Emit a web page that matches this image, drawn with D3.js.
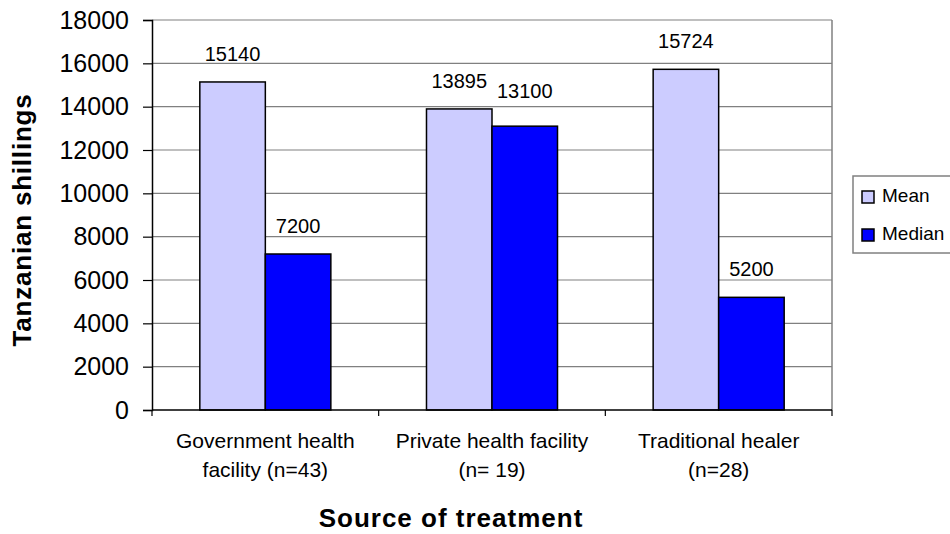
<!DOCTYPE html>
<html>
<head>
<meta charset="utf-8">
<script src="https://cdn.jsdelivr.net/npm/d3@7"></script>
<style>
  body { margin: 0; background: #fff; }
  svg { display: block; font-family: Arial, "Liberation Sans", sans-serif; }
</style>
</head>
<body>
<svg id="chart" width="950" height="534"></svg>
<script>
// data
var categories = [
  ["Government health", "facility (n=43)"],
  ["Private health facility", "(n= 19)"],
  ["Traditional healer", "(n=28)"]
];
var series = ["Mean", "Median"];
var meanValues = [15140, 13895, 15724];
var medianValues = [7200, 13100, 5200];
var yTicks = [0, 2000, 4000, 6000, 8000, 10000, 12000, 14000, 16000, 18000];

var colors = { Mean: "#ccccff", Median: "#0000ff" };

// plot box (not "top": that name is taken by window.top)
var plotLeft = 152, plotRight = 832, plotTop = 20, plotBottom = 410;

var svg = d3.select("#chart");

var x0 = d3.scaleBand()
  .domain(d3.range(categories.length))
  .range([plotLeft, plotRight])
  .paddingInner(0).paddingOuter(0);

var x1 = d3.scaleBand()
  .domain(series)
  .range([0, x0.bandwidth()])
  .paddingInner(0).paddingOuter(0.73);

var y = d3.scaleLinear().domain([0, 18000]).range([plotBottom, plotTop]);

// gridlines
svg.append("g").selectAll("line")
  .data(yTicks.filter(function(d){ return d > 0; }))
  .enter().append("line")
  .attr("x1", plotLeft).attr("x2", plotRight)
  .attr("y1", function(d){ return y(d); })
  .attr("y2", function(d){ return y(d); })
  .attr("stroke", "#808080").attr("stroke-width", 1.2);

// right border of plot area
svg.append("line")
  .attr("x1", plotRight).attr("x2", plotRight).attr("y1", plotTop).attr("y2", plotBottom)
  .attr("stroke", "#808080").attr("stroke-width", 1.5);

// bars
var rows = categories.map(function(c, i){
  return { i: i, values: [
    { key: "Mean", value: meanValues[i] },
    { key: "Median", value: medianValues[i] }
  ]};
});

var groups = svg.append("g").selectAll("g")
  .data(rows).enter().append("g")
  .attr("transform", function(d){ return "translate(" + x0(d.i) + ",0)"; });

groups.selectAll("rect")
  .data(function(d){ return d.values; })
  .enter().append("rect")
  .attr("x", function(d){ return x1(d.key); })
  .attr("width", x1.bandwidth())
  .attr("y", function(d){ return y(d.value); })
  .attr("height", function(d){ return y(0) - y(d.value); })
  .attr("fill", function(d){ return colors[d.key]; })
  .attr("stroke", "#000").attr("stroke-width", 1.5);

// value labels (the private median label sits a bit higher in the original)
groups.selectAll("text")
  .data(function(d){ return d.values.map(function(v){ return { key: v.key, value: v.value, i: d.i }; }); })
  .enter().append("text")
  .attr("x", function(d){ return x1(d.key) + x1.bandwidth() / 2; })
  .attr("y", function(d){
    var off = (d.i === 1 && d.key === "Median") ? 28 : 21;
    return y(d.value) - off;
  })
  .attr("text-anchor", "middle")
  .attr("font-size", 20)
  .attr("fill", "#000")
  .text(function(d){ return d.value; });

// y axis
var yAxis = svg.append("g")
  .attr("transform", "translate(" + plotLeft + ",0)")
  .call(d3.axisLeft(y).tickValues(yTicks).tickSize(9).tickPadding(14).tickFormat(d3.format("d")));
yAxis.select(".domain").attr("stroke", "#000").attr("stroke-width", 1.5);
yAxis.selectAll(".tick line").attr("stroke", "#000").attr("stroke-width", 1.2);
yAxis.selectAll("text").attr("font-size", 25).attr("fill", "#000")
  .attr("font-family", "Arial, 'Liberation Sans', sans-serif");

// x axis line and category boundary ticks
svg.append("line")
  .attr("x1", plotLeft).attr("x2", plotRight).attr("y1", plotBottom).attr("y2", plotBottom)
  .attr("stroke", "#000").attr("stroke-width", 1.5);
svg.append("g").selectAll("line")
  .data(d3.range(categories.length + 1))
  .enter().append("line")
  .attr("x1", function(d){ return plotLeft + d * x0.step(); })
  .attr("x2", function(d){ return plotLeft + d * x0.step(); })
  .attr("y1", plotBottom).attr("y2", plotBottom + 6)
  .attr("stroke", "#000").attr("stroke-width", 1.2);

// category labels
var cat = svg.append("g").selectAll("text")
  .data(categories).enter().append("text")
  .attr("text-anchor", "middle")
  .attr("font-size", 21)
  .attr("fill", "#000");
cat.each(function(d, i){
  var t = d3.select(this);
  var cx = x0(i) + x0.bandwidth() / 2;
  d.forEach(function(line, k){
    t.append("tspan").attr("x", cx).attr("y", 448 + k * 29).text(line);
  });
});

// axis titles
svg.append("text")
  .attr("x", 451).attr("y", 527)
  .attr("text-anchor", "middle")
  .attr("font-size", 26).attr("font-weight", "bold")
  .attr("letter-spacing", 1)
  .text("Source of treatment");

svg.append("text")
  .attr("transform", "translate(31,220) rotate(-90)")
  .attr("text-anchor", "middle")
  .attr("font-size", 26).attr("font-weight", "bold")
  .attr("letter-spacing", 0.8)
  .text("Tanzanian shillings");

// legend
var legend = svg.append("g");
legend.append("rect")
  .attr("x", 853).attr("y", 176).attr("width", 110).attr("height", 77)
  .attr("fill", "#fff").attr("stroke", "#808080").attr("stroke-width", 1.5);
var items = legend.selectAll("g.item")
  .data(series).enter().append("g")
  .attr("class", "item")
  .attr("transform", function(d, i){ return "translate(862," + (191 + i * 38) + ")"; });
items.append("rect")
  .attr("width", 12).attr("height", 12)
  .attr("fill", function(d){ return colors[d]; })
  .attr("stroke", "#000").attr("stroke-width", 1.5);
items.append("text")
  .attr("x", 20).attr("y", 11)
  .attr("font-size", 19).attr("fill", "#000")
  .text(function(d){ return d; });
</script>
</body>
</html>
